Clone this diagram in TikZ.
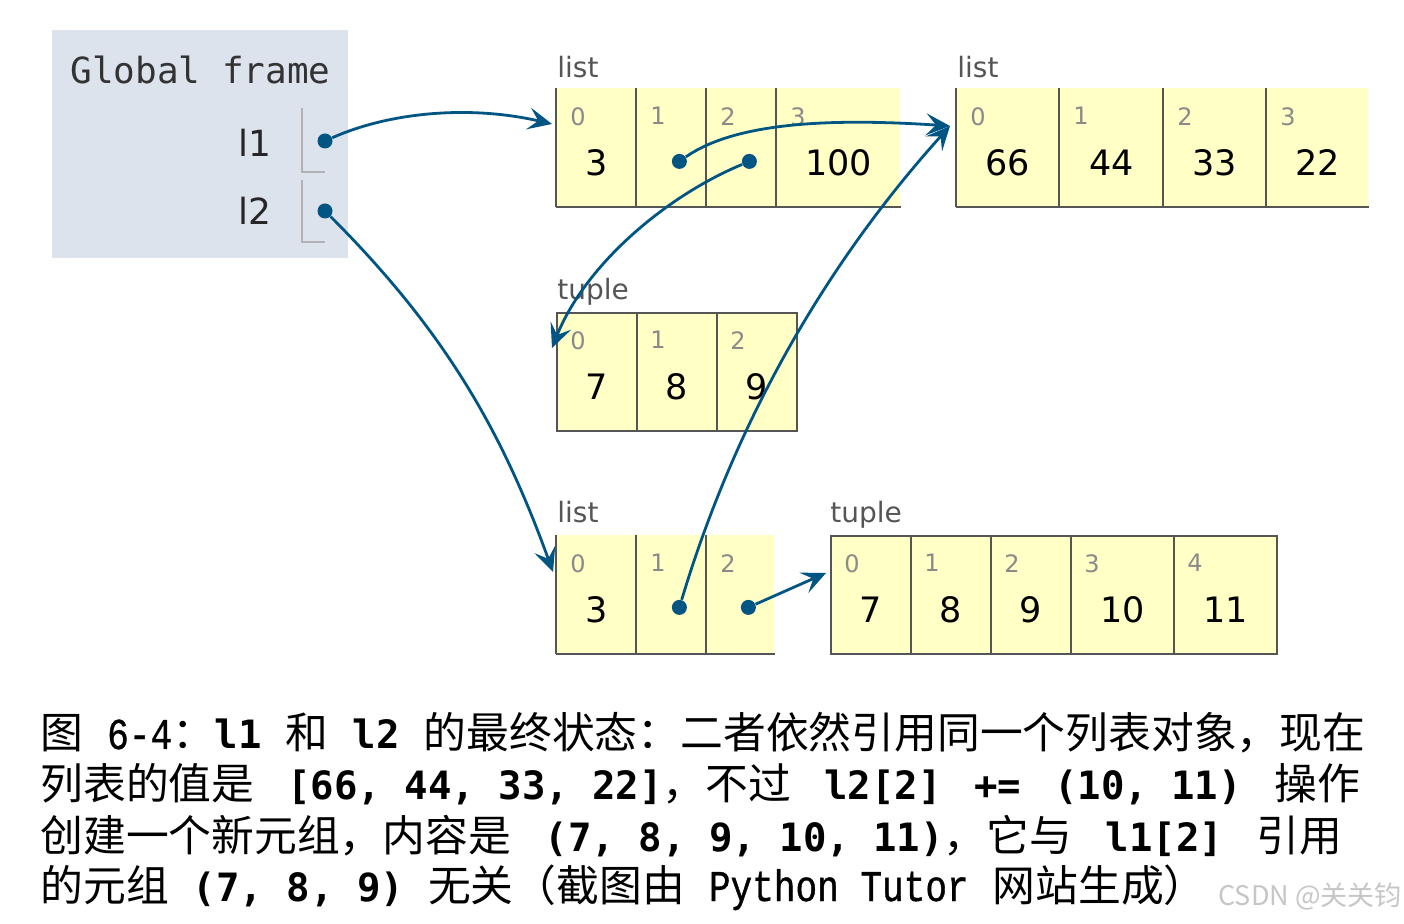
\documentclass[tikz,border=0pt]{standalone}
\usepackage{fontspec}
\setmainfont{DejaVu Sans}
\newfontfamily\cjk{Noto Sans CJK SC}
\newfontfamily\codemono{DejaVu Sans Mono}
\newfontfamily\smono{Liberation Mono}[FakeStretch=0.82,FakeBold=0.8]
\usetikzlibrary{arrows.meta}
\definecolor{cellbg}{HTML}{FFFFC6}
\definecolor{framebg}{HTML}{DCE3ED}
\definecolor{edge}{HTML}{555555}
\definecolor{ptr}{HTML}{005583}
\definecolor{idxgray}{HTML}{8A8A8A}
\definecolor{taggray}{HTML}{555555}
\newcommand{\pyc}[1]{{\fontsize{19.5pt}{25pt}\selectfont\codemono\bfseries\spaceskip=\fontdimen2\font\relax #1}}
\newcommand{\sermono}[1]{{\fontsize{22pt}{25pt}\selectfont\smono\spaceskip=\fontdimen2\font\relax #1}}
\newcommand{\capsize}{\fontsize{21.4pt}{25pt}\selectfont\cjk\spaceskip=12pt plus 30pt\relax}

\begin{document}
\begin{tikzpicture}[x=0.5pt,y=-0.5pt,
 >={Stealth[length=12pt,width=11pt,inset=5pt]},
 lcell/.style={fill=cellbg,minimum height=59pt,inner sep=0pt,anchor=north west},
 tcell/.style={lcell,draw=edge,line width=0.8pt},
 edgeline/.style={draw=edge,line width=0.8pt},
 slot/.style={draw=gray!60,line width=0.6pt},
 idx/.style={font=\fontsize{12pt}{14pt}\selectfont,text=idxgray,anchor=north west,inner sep=0pt},
 val/.style={font=\fontsize{17.5pt}{20pt}\selectfont,inner sep=0pt},
 tag/.style={font=\fontsize{14pt}{16pt}\selectfont,text=taggray,anchor=base west,inner sep=0pt},
 var/.style={font=\fontsize{18pt}{20pt}\selectfont,text=black!85,anchor=east,inner sep=0pt},
 dot/.style={circle,fill=ptr,inner sep=0pt,minimum size=7.5pt},
 ref/.style={->,draw=ptr,line width=1.4pt},
 capline/.style={anchor=base west,inner sep=0pt,font=\capsize}]
\fill[white] (0,0) rectangle (1404,924);
\useasboundingbox (0,0) rectangle (1404,924);

% global frame
\node[fill=framebg,minimum width=148pt,minimum height=114pt,anchor=north west,inner sep=0pt] (gf) at (52,30) {};
\node[anchor=west,inner sep=0pt,font=\fontsize{18pt}{20pt}\selectfont\codemono,text=black!80] (gf-t) at (70,70) {Global frame};
\node[var] (v1) at (272,143) {l1};
\node[var] (v2) at (272,211) {l2};
\draw[slot] (302,108) -- (302,172) -- (325,172);
\draw[slot] (302,180) -- (302,242) -- (325,242);
\node[dot] (p1) at (325,141) {};
\node[dot] (p2) at (325,211) {};

% list l1 (old) top left
\node[tag] (tag-a) at (557,78) {list};
\foreach \x/\w/\i/\v in {556/80/0/3,636/70/1/{},706/70/2/{},776/124/3/100}{
  \node[lcell,minimum width=\w*0.5pt] (a\i) at (\x,88) {};
  \node[idx] (a\i-i) at ([shift={(14,19)}]a\i.north west) {\i};
  \node[val] (a\i-v) at ([shift={(0,15)}]a\i.center) {\v};
  \draw[edgeline] (a\i.north west) -- (a\i.south west);
}
\draw[edgeline] (a0.south west) -- (a3.south east);

% shared list
\node[tag] (tag-b) at (957,78) {list};
\foreach \x/\w/\i/\v in {956/103/0/66,1059/104/1/44,1163/103/2/33,1266/102/3/22}{
  \node[lcell,minimum width=\w*0.5pt] (b\i) at (\x,88) {};
  \node[idx] (b\i-i) at ([shift={(14,19)}]b\i.north west) {\i};
  \node[val] (b\i-v) at ([shift={(0,15)}]b\i.center) {\v};
  \draw[edgeline] (b\i.north west) -- (b\i.south west);
}
\draw[edgeline] (b0.south west) -- (b3.south east);

% tuple (7, 8, 9)
\node[tag] (tag-c) at (557,300) {tuple};
\foreach \x/\w/\i/\v in {556/80/0/7,636/80/1/8,716/80/2/9}{
  \node[tcell,minimum width=\w*0.5pt] (c\i) at (\x,312) {};
  \node[idx] (c\i-i) at ([shift={(14,19)}]c\i.north west) {\i};
  \node[val] (c\i-v) at ([shift={(0,15)}]c\i.center) {\v};
}

% list l2 bottom
\node[tag] (tag-d) at (557,523) {list};
\foreach \x/\w/\i/\v in {556/80/0/3,636/70/1/{},706/68/2/{}}{
  \node[lcell,minimum width=\w*0.5pt] (d\i) at (\x,535) {};
  \node[idx] (d\i-i) at ([shift={(14,19)}]d\i.north west) {\i};
  \node[val] (d\i-v) at ([shift={(0,15)}]d\i.center) {\v};
  \draw[edgeline] (d\i.north west) -- (d\i.south west);
}
\draw[edgeline] (d0.south west) -- (d2.south east);

% tuple (7, 8, 9, 10, 11)
\node[tag] (tag-e) at (830,523) {tuple};
\foreach \x/\w/\i/\v in {830/80/0/7,910/80/1/8,990/80/2/9,1070/103/3/10,1173/103/4/11}{
  \node[tcell,minimum width=\w*0.5pt] (e\i) at (\x,535) {};
  \node[idx] (e\i-i) at ([shift={(14,19)}]e\i.north west) {\i};
  \node[val] (e\i-v) at ([shift={(0,15)}]e\i.center) {\v};
}

% pointer dots inside cells
\node[dot] (q1) at ([shift={(8,14)}]a1.center) {};
\node[dot] (q2) at ([shift={(8,14)}]a2.center) {};
\node[dot] (r1) at ([shift={(8,13)}]d1.center) {};
\node[dot] (r2) at ([shift={(8,13)}]d2.center) {};

\coordinate (in-a) at ([shift={(-4,36)}]a0.north west);
\coordinate (in-b) at ([shift={(-6,38)}]b0.north west);
\coordinate (in-c) at ([shift={(-4,36)}]c0.north west);
\coordinate (in-d) at ([shift={(-3,37)}]d0.north west);
\coordinate (in-e) at ([shift={(-4,38)}]e0.north west);

% references
\draw[ref] (p1) .. controls +(65,-29) and +(-82,-19) .. (in-a);
\draw[ref] (p2) .. controls +(120,120) and +(-51,-141) .. (in-d);
\draw[ref] (q1) .. controls +(56,-39) and +(-120,-8) .. (in-b);
\draw[ref] (q2) .. controls +(-84,35) and +(33,-83) .. (in-c);
\draw[ref] (r1) .. controls +(54,-180) and +(-128,142) .. (in-b);
\draw[ref] (r2) -- (in-e);

% caption
\node[capline] (cap1) at (40,749) {\hbox to 660pt{图 \sermono{6-4}：\pyc{l1} 和 \pyc{l2} 的最终状态：二者依然引用同一个列表对象，现在}};
\node[capline] (cap2) at (40,800) {\hbox to 660pt{列表的值是 \pyc{[66, 44, 33, 22]}，不过 \pyc{l2[2]} \pyc{+=} \pyc{(10, 11)} 操作}};
\node[capline] (cap3) at (40,851) {\hbox to 651pt{创建一个新元组，内容是 \pyc{(7, 8, 9, 10, 11)}，它与 \pyc{l1[2]} 引用}};
\node[capline] (cap4) at (40,901) {的元组 \pyc{(7, 8, 9)} 无关（截图由 \sermono{Python Tutor} 网站生成）};
\node[anchor=base west,inner sep=0pt,font=\fontsize{13.5pt}{15pt}\selectfont\cjk,text=gray!45] (wm) at (1218,906) {CSDN @关关钧};
\end{tikzpicture}
\end{document}
